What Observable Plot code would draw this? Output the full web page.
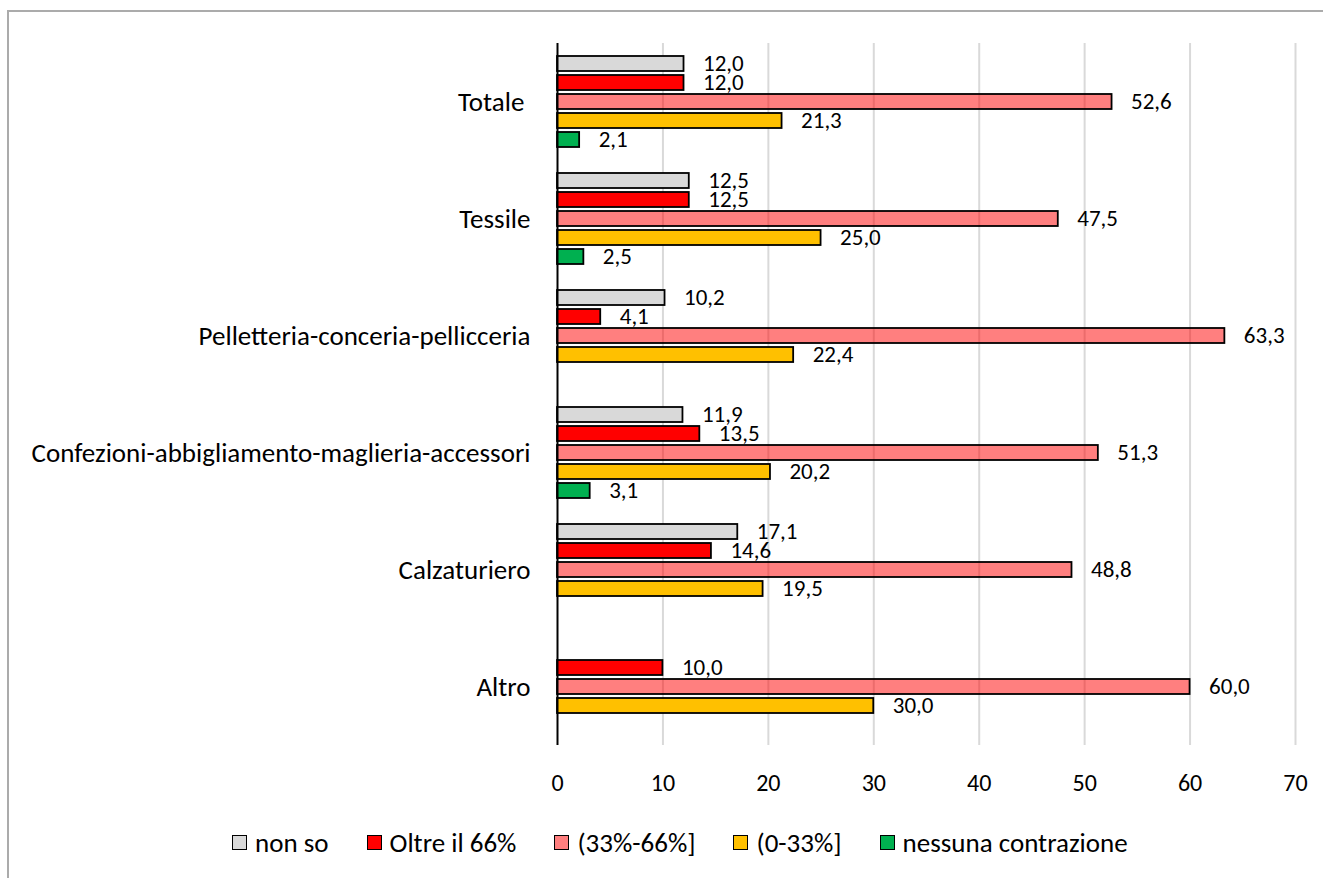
<!DOCTYPE html>
<html>
<head>
<meta charset="utf-8">
<script src="https://cdn.jsdelivr.net/npm/d3@7"></script>
<script src="https://cdn.jsdelivr.net/npm/@observablehq/plot@0.6"></script>
<style>
  html, body { margin: 0; padding: 0; background: #fff; overflow: hidden; }
  body { width: 1323px; height: 878px; position: relative; font-family: Carlito, Calibri, Lato, sans-serif; }
  #frame { position: absolute; left: 7px; top: 10px; width: 1400px; height: 1000px;
           border-top: 2px solid #ABABAB; border-left: 2px solid #ABABAB; box-sizing: border-box; }
  #chart { position: absolute; left: 0; top: 0; }
  #legend { position: absolute; left: 232px; top: 826px; display: flex; align-items: center; gap: 38px;
            font-size: 27px; color: #000; white-space: nowrap; }
  .item { display: flex; align-items: center; gap: 8px; }
  .sw { width: 13px; height: 13px; border: 1.8px solid #000; display: inline-block; }
</style>
</head>
<body>
<div id="frame"></div>
<div id="chart"></div>
<div id="legend"></div>
<script>
const categories = ["Totale ", "Tessile", "Pelletteria-conceria-pellicceria",
  "Confezioni-abbigliamento-maglieria-accessori", "Calzaturiero", "Altro"];
const series = ["non so", "Oltre il 66%", "(33%-66%]", "(0-33%]", "nessuna contrazione"];
const nonSo    = [12.0, 12.5, 10.2, 11.9, 17.1, null];
const oltre66  = [12.0, 12.5, 4.1, 13.5, 14.6, 10.0];
const da33a66  = [52.6, 47.5, 63.3, 51.3, 48.8, 60.0];
const da0a33   = [21.3, 25.0, 22.4, 20.2, 19.5, 30.0];
const nessuna  = [2.1, 2.5, null, 3.1, null, null];
const colors   = ["#D9D9D9", "#FF0000", "#FF0000", "#FFC000", "#00B050"];
const xTicks   = [0, 10, 20, 30, 40, 50, 60, 70];

const seriesValues = [nonSo, oltre66, da33a66, da0a33, nessuna];
const rows = [];
series.forEach((s, si) => {
  categories.forEach((c, ci) => {
    const v = seriesValues[si][ci];
    if (v != null) rows.push({category: c, series: s, value: v});
  });
});
const fmt = v => v.toFixed(1).replace(".", ",");
const FONT = "Carlito, Calibri, Lato, sans-serif";
const semi = "(33%-66%]";

const chart = Plot.plot({
  width: 1323, height: 810,
  marginTop: 43, marginBottom: 65, marginLeft: 557, marginRight: 28,
  style: {fontFamily: FONT, color: "#000", background: "transparent", overflow: "visible"},
  x: {domain: [0, 70], axis: null},
  y: {domain: series, paddingInner: 0.2, paddingOuter: 0.65, axis: null},
  fy: {domain: categories, padding: 0, axis: null},
  color: {domain: series, range: colors},
  marks: [
    Plot.ruleX(xTicks.filter(t => t > 0), {stroke: "#D9D9D9", strokeWidth: 2}),
    Plot.barX(rows.filter(d => d.series !== semi),
      {x: "value", y: "series", fy: "category", fill: "series", stroke: "#000", strokeWidth: 1.8}),
    Plot.barX(rows.filter(d => d.series === semi),
      {x: "value", y: "series", fy: "category", fill: "series", fillOpacity: 0.5, stroke: "#000", strokeWidth: 1.8}),
    Plot.ruleX([0], {stroke: "#000", strokeWidth: 2}),
    Plot.text(rows, {x: "value", y: "series", fy: "category", text: d => fmt(d.value),
      textAnchor: "start", dx: 19, fontSize: 23, fill: "#000"}),
    Plot.axisFy({anchor: "left", tickSize: 0, tickPadding: 27, fontSize: 27, label: null,
      tickFormat: d => d.replace(/ +$/, "\u00a0"), fill: "#000"}),
    Plot.axisX({ticks: xTicks, tickSize: 0, tickPadding: 28, fontSize: 24, label: null,
      tickFormat: d => String(d), fill: "#000"})
  ]
});
document.getElementById("chart").appendChild(chart);

const legend = document.getElementById("legend");
series.forEach((s, i) => {
  const item = document.createElement("div");
  item.className = "item";
  const sw = document.createElement("span");
  sw.className = "sw";
  sw.style.background = colors[i];
  if (s === semi) sw.style.background = "rgba(255,0,0,0.5)";
  const t = document.createElement("span");
  t.textContent = s;
  item.appendChild(sw);
  item.appendChild(t);
  legend.appendChild(item);
});
</script>
</body>
</html>
